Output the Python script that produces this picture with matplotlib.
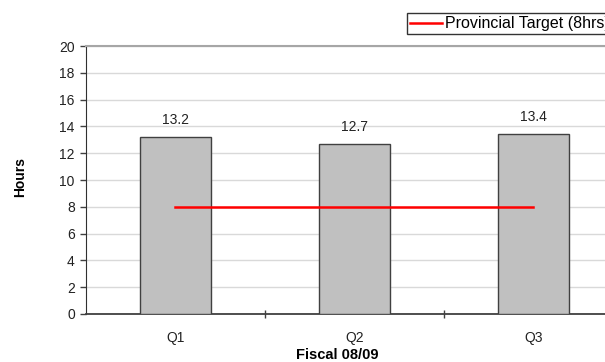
import matplotlib.pyplot as plt
from matplotlib.ticker import FixedLocator

# quarterly average hours vs provincial target
quarters = ["Q1", "Q2", "Q3"]
hours = [13.2, 12.7, 13.4]
target = 8
target_label = "Provincial Target (8hrs)"

plt.rcParams['font.family'] = ['Liberation Sans', 'DejaVu Sans']

fig = plt.figure(figsize=(6.05, 3.62), dpi=100)
ax = fig.add_axes([0.1421, 0.1326, 0.8876, 0.7403])

x = list(range(len(quarters)))
ax.bar(x, hours, width=0.4, color="#c0c0c0", edgecolor="#404040", linewidth=1.0, zorder=3)
for xi, h in zip(x, hours):
    ax.text(xi, h + 0.75, f"{h}", ha="center", va="bottom", fontsize=10, color="#222222")

line, = ax.plot([x[0], x[-1]], [target, target], color="#ff0000", linewidth=1.8, zorder=4)

ax.set_xlim(-0.5, 2.5)
ax.set_ylim(0, 20)
ax.set_yticks(range(0, 21, 2))
ax.set_xticks(x)
ax.set_xticklabels(quarters)
ax.xaxis.set_minor_locator(FixedLocator([0.5, 1.5]))
ax.tick_params(axis="x", which="major", length=0, pad=12, labelsize=10, colors="#222222")
ax.tick_params(axis="x", which="minor", length=6, direction="inout", color="#404040", width=1)
ax.tick_params(axis="y", length=4, direction="out", color="#404040", width=1, labelsize=10,
               labelcolor="#222222", pad=4)
ax.grid(axis="y", color="#d9d9d9", linewidth=1, zorder=0)
ax.set_axisbelow(True)
ax.spines["right"].set_visible(False)
ax.spines["top"].set_color("#a6a6a6")
ax.spines["top"].set_linewidth(1.5)
ax.spines["left"].set_color("#303030")
ax.spines["bottom"].set_color("#404040")
ax.spines["bottom"].set_linewidth(1.3)

fig.text(0.033, 0.51, "Hours", rotation=90, ha="center", va="center", fontsize=10, fontweight="bold")
fig.text(0.557, 0.018, "Fiscal 08/09", ha="center", va="center", fontsize=10.5, fontweight="bold")

fig.legend([line], [target_label], loc="upper left", bbox_to_anchor=(0.6727, 0.964),
           fontsize=11.5, frameon=True, fancybox=False, edgecolor="#000000",
           handlelength=2.0, borderpad=0.2, borderaxespad=0, handletextpad=0.15)

fig.savefig("out.png", dpi=100)
